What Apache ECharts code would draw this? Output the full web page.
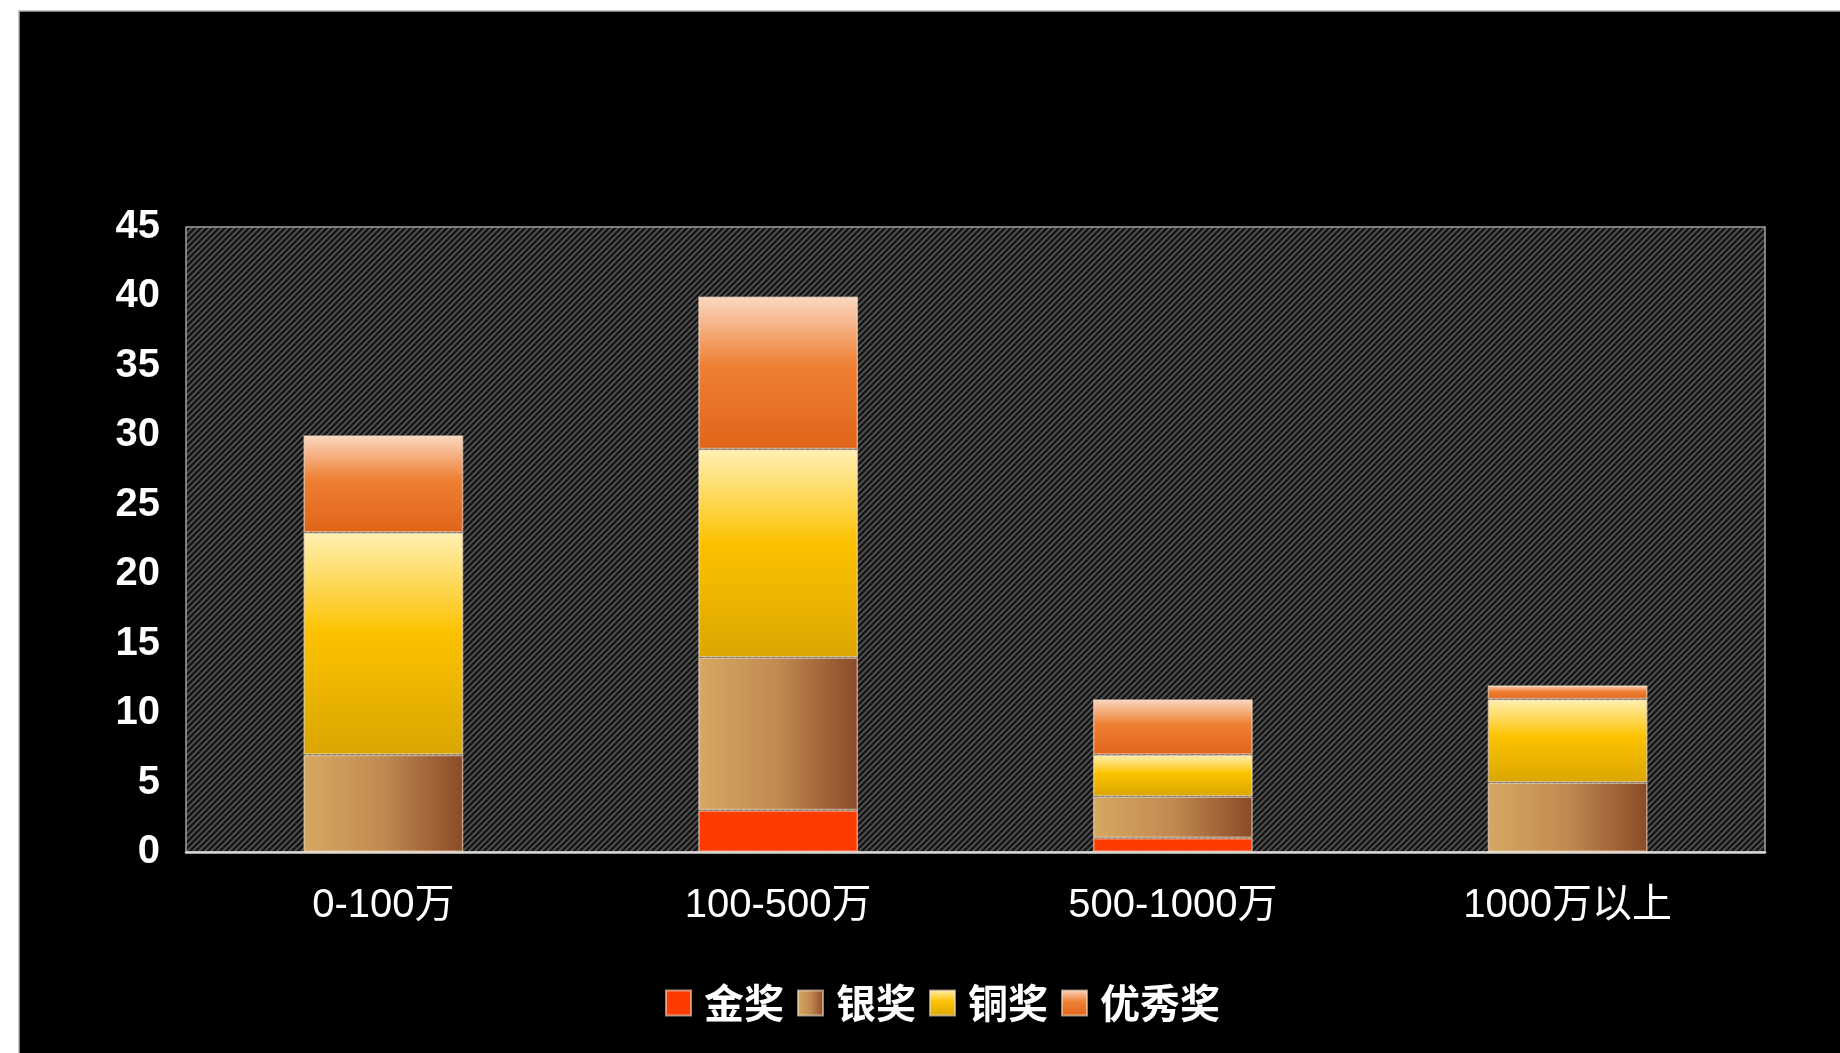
<!DOCTYPE html>
<html>
<head>
<meta charset="utf-8">
<script src="https://cdn.jsdelivr.net/npm/echarts@6/dist/echarts.min.js"></script>
<style>
html,body{margin:0;padding:0;background:#fff;}
#c{width:1840px;height:1053px;}
</style>
</head>
<body>
<div id="c"></div>
<script>
const categories = ['0-100万', '100-500万', '500-1000万', '1000万以上'];
const seriesNames = ['金奖', '银奖', '铜奖', '优秀奖'];
const gold = [0, 3, 1, 0];
const silver = [7, 11, 3, 5];
const bronze = [16, 15, 3, 6];
const excellent = [7, 11, 4, 1];
const yTicks = [0, 5, 10, 15, 20, 25, 30, 35, 40, 45];

// stripe pattern tile
const tile = document.createElement('canvas');
tile.width = 6; tile.height = 6;
const tctx = tile.getContext('2d');
tctx.fillStyle = '#101010';
tctx.fillRect(0, 0, 6, 6);
tctx.strokeStyle = '#4c4c4c';
tctx.lineWidth = 2.2;
tctx.beginPath();
tctx.moveTo(-1, 7); tctx.lineTo(7, -1);
tctx.moveTo(-4, 4); tctx.lineTo(4, -4);
tctx.moveTo(2, 10); tctx.lineTo(10, 2);
tctx.stroke();

const lg = (stops, x2, y2) => ({
  type: 'linear', x: 0, y: 0, x2: x2, y2: y2,
  colorStops: stops.map(s => ({offset: s[0], color: s[1]}))
});

const styles = [
  {color: '#ff3c00'},
  {color: lg([[0, '#d6a862'], [0.5, '#c08a50'], [1, '#8a4a28']], 1, 0)},
  {color: lg([[0, '#fff0b4'], [0.45, '#fcc200'], [1, '#daa600']], 0, 1)},
  {color: lg([[0, '#fbd8c2'], [0.45, '#ee8034'], [1, '#e06418']], 0, 1)}
];
const dataSets = [gold, silver, bronze, excellent];

const chart = echarts.init(document.getElementById('c'));
chart.setOption({
  backgroundColor: '#ffffff',
  animation: false,
  graphic: [{
    type: 'rect', z: -100, silent: true,
    shape: {x: 19, y: 11, width: 1840, height: 1060},
    style: {fill: '#000000', stroke: '#b0b0b0', lineWidth: 1.5}
  }],
  grid: {
    left: 186, top: 227, width: 1579, height: 625,
    show: true,
    backgroundColor: {image: tile, repeat: 'repeat'},
    borderColor: '#a0a0a0', borderWidth: 1.5
  },
  legend: {
    data: seriesNames,
    bottom: 25,
    left: 660,
    itemWidth: 25, itemHeight: 25, itemGap: 13,
    icon: 'rect',
    textStyle: {color: '#fff', fontSize: 40, fontWeight: 'bold', fontFamily: 'Noto Sans CJK SC', padding: [0, 0, 0, 8]}
  },
  xAxis: {
    type: 'category', data: categories,
    axisLine: {show: true, lineStyle: {color: '#d8d8d8', width: 2.5}},
    axisTick: {show: false},
    axisLabel: {color: '#fff', fontSize: 40, margin: 34, fontFamily: 'Liberation Sans, Noto Sans CJK SC'}
  },
  yAxis: {
    type: 'value', min: 0, max: 45, interval: 5,
    axisLine: {show: false}, axisTick: {show: false}, splitLine: {show: false},
    axisLabel: {color: '#fff', fontSize: 40, fontWeight: 'bold', margin: 26, fontFamily: 'Liberation Sans',
      padding: [6, 0, 0, 0],
      formatter: v => yTicks.includes(v) ? String(v) : ''}
  },
  series: seriesNames.map((n, i) => ({
    name: n, type: 'bar', stack: 'total', data: dataSets[i],
    barWidth: '40.5%',
    itemStyle: Object.assign({borderColor: 'rgba(245,225,205,0.6)', borderWidth: 1.5}, styles[i])
  }))
});
</script>
</body>
</html>
